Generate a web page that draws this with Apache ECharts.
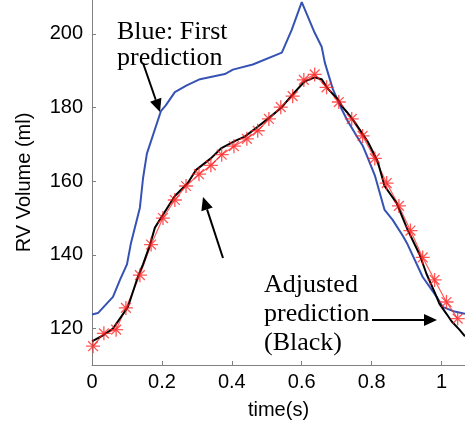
<!DOCTYPE html>
<html>
<head>
<meta charset="utf-8">
<script src="https://cdn.jsdelivr.net/npm/echarts@6/dist/echarts.min.js"></script>
<style>
html, body { margin: 0; padding: 0; background: #fff; }
#main { width: 465px; height: 425px; }
</style>
</head>
<body>
<div id="main"></div>
<script>
// first prediction (blue)
var blueT = [0, 0.017, 0.06, 0.08, 0.10, 0.111, 0.137, 0.146, 0.157, 0.197, 0.211, 0.237, 0.271, 0.309, 0.38, 0.403, 0.46, 0.543, 0.571, 0.6, 0.637, 0.657, 0.666, 0.689, 0.714, 0.731, 0.757, 0.774, 0.786, 0.809, 0.837, 0.86, 0.889, 0.903, 0.946, 0.986, 1.003, 1.037, 1.067];
var blueV = [123.8, 124.2, 128.6, 133.2, 137.4, 143.0, 152.8, 160.8, 167.5, 179.0, 180.6, 184.2, 186.0, 187.7, 189.1, 190.3, 191.7, 194.9, 201.0, 208.6, 200.3, 196.5, 192.2, 185.0, 179.6, 176.4, 172.3, 169.7, 167.0, 161.6, 152.2, 149.5, 145.2, 142.8, 134.0, 128.6, 125.9, 124.6, 124.0];

// adjusted prediction (black)
var blackT = [0, 0.034, 0.06, 0.103, 0.131, 0.146, 0.166, 0.18, 0.203, 0.237, 0.274, 0.297, 0.34, 0.369, 0.411, 0.437, 0.474, 0.509, 0.543, 0.574, 0.609, 0.637, 0.657, 0.674, 0.703, 0.717, 0.729, 0.751, 0.789, 0.817, 0.837, 0.871, 0.903, 0.937, 0.957, 0.98, 0.994, 1.014, 1.029, 1.051, 1.067];
var blackV = [116.5, 118.3, 120.0, 125.9, 134.0, 137.4, 142.8, 147.4, 150.9, 156.0, 159.5, 163.0, 166.2, 168.9, 171.0, 172.1, 174.8, 177.4, 180.1, 183.6, 187.1, 188.2, 187.7, 185.2, 182.3, 180.1, 178.8, 176.1, 170.7, 165.4, 158.7, 154.1, 146.8, 140.1, 134.8, 129.9, 126.7, 124.0, 121.9, 119.7, 117.9];

// measured volume (red stars)
var redT = [0.003, 0.034, 0.069, 0.097, 0.137, 0.169, 0.203, 0.237, 0.269, 0.306, 0.34, 0.371, 0.406, 0.443, 0.474, 0.506, 0.54, 0.574, 0.606, 0.637, 0.671, 0.706, 0.743, 0.774, 0.809, 0.843, 0.878, 0.911, 0.946, 0.98, 1.014, 1.046];
var redV = [115.2, 118.7, 119.7, 125.6, 134.5, 142.8, 150.0, 154.9, 158.7, 161.9, 164.3, 167.2, 169.5, 171.5, 173.7, 176.9, 180.1, 183.1, 187.5, 189.0, 185.5, 181.5, 176.9, 172.3, 166.2, 159.5, 153.3, 146.6, 139.3, 133.2, 127.2, 122.7];

var xTicks = [0, 0.2, 0.4, 0.6, 0.8, 1];
var yTicks = [120, 140, 160, 180, 200];

function pairs(t, v) {
    var out = [];
    for (var i = 0; i < t.length; i++) out.push([t[i], v[i]]);
    return out;
}

// straight arrow with a filled head, pixel coords
function arrow(x1, y1, x2, y2) {
    var dx = x2 - x1, dy = y2 - y1;
    var len = Math.sqrt(dx * dx + dy * dy);
    var ux = dx / len, uy = dy / len;
    var hl = 13, hw = 6;
    var bx = x2 - ux * hl, by = y2 - uy * hl;
    return [
        { type: 'line', shape: { x1: x1, y1: y1, x2: bx, y2: by }, style: { stroke: '#000', lineWidth: 2 } },
        { type: 'polygon', shape: { points: [[x2, y2], [bx - uy * hw, by + ux * hw], [bx + uy * hw, by - ux * hw]] }, style: { fill: '#000' } }
    ];
}

var serif = '"Liberation Serif", "Times New Roman", serif';
var sans = '"Liberation Sans", Arial, sans-serif';

var myChart = echarts.init(document.getElementById('main'));
var option = {
    animation: false,
    grid: { left: 92, right: 0, top: 0, bottom: 57 },
    xAxis: {
        type: 'value',
        min: 0,
        max: 1.067,
        name: 'time(s)',
        nameLocation: 'middle',
        nameGap: 35,
        nameTextStyle: { color: '#000', fontSize: 20, fontFamily: sans },
        axisLine: { lineStyle: { color: '#808080', width: 1 } },
        axisTick: { inside: true, length: 4, customValues: xTicks, lineStyle: { color: '#808080' } },
        axisLabel: { customValues: xTicks, color: '#000', fontSize: 20, margin: 7, fontFamily: sans },
        splitLine: { show: false }
    },
    yAxis: {
        type: 'value',
        min: 110.1,
        max: 209.2,
        name: 'RV Volume (ml)',
        nameLocation: 'middle',
        nameGap: 58,
        nameTextStyle: { color: '#000', fontSize: 20, fontFamily: sans },
        axisLine: { show: true, lineStyle: { color: '#808080', width: 1 } },
        axisTick: { show: true, inside: true, length: 4, customValues: yTicks, lineStyle: { color: '#808080' } },
        axisLabel: { customValues: yTicks, color: '#000', fontSize: 20, margin: 9, fontFamily: sans },
        splitLine: { show: false }
    },
    series: [
        {
            name: 'First prediction',
            type: 'line',
            showSymbol: false,
            lineStyle: { color: '#3653b3', width: 2 },
            data: pairs(blueT, blueV)
        },
        {
            name: 'Measured',
            type: 'line',
            symbol: 'path://M0,-6L0,6M-6,0L6,0M-4.2,-4.2L4.2,4.2M-4.2,4.2L4.2,-4.2',
            symbolSize: 14,
            itemStyle: { color: 'rgba(255,30,30,0.75)', borderColor: 'rgba(255,30,30,0.75)', borderWidth: 1.3 },
            lineStyle: { color: 'rgba(255,40,40,0.75)', width: 1.2 },
            data: pairs(redT, redV)
        },
        {
            name: 'Adjusted prediction',
            type: 'line',
            showSymbol: false,
            lineStyle: { color: '#000', width: 2 },
            data: pairs(blackT, blackV)
        }
    ],
    graphic: [
        {
            type: 'text', left: 117, top: 19,
            style: { text: 'Blue: First\nprediction', font: '26px ' + serif, lineHeight: 26, fill: '#000' }
        },
        {
            type: 'text', left: 264, top: 271,
            style: { text: 'Adjusted\nprediction\n(Black)', font: '26px ' + serif, lineHeight: 29, fill: '#000' }
        }
    ].concat(arrow(143, 63, 160, 112), arrow(223, 258, 203, 197), arrow(372, 320, 437, 320))
};
myChart.setOption(option);
</script>
</body>
</html>
